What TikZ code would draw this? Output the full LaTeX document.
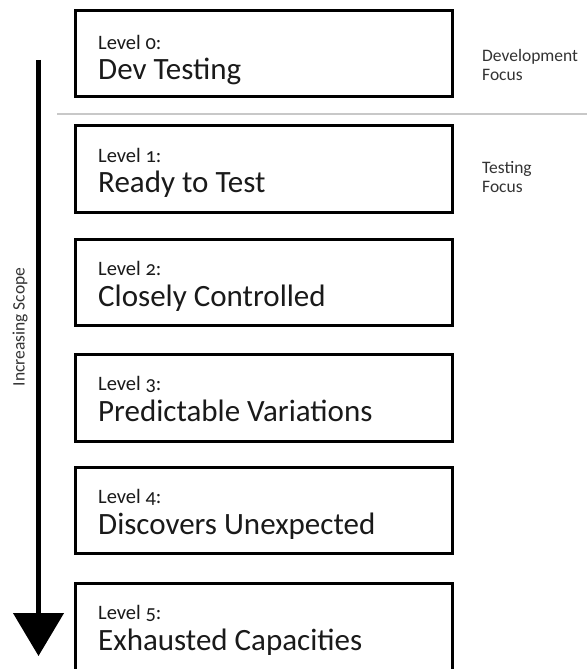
\documentclass[tikz,border=0pt]{standalone}
\usepackage{fontspec}
\setmainfont{Carlito}[Numbers=OldStyle]
\usetikzlibrary{arrows.meta}
\definecolor{ink}{HTML}{1A1A1A}
\definecolor{sidetxt}{HTML}{333333}
\definecolor{sepgray}{HTML}{C8C8C8}
\tikzset{
  levelbox/.style={draw=black, line width=3pt, rectangle, inner sep=0pt, outer sep=0pt,
    minimum width=377pt, anchor=north west},
  lvltxt/.style={anchor=base west, inner sep=0pt, text=ink, font=\fontsize{20.5}{24}\selectfont},
  titletxt/.style={anchor=base west, inner sep=0pt, text=ink, font=\fontsize{31}{36}\selectfont},
  sidelabel/.style={anchor=base west, inner sep=0pt, align=left, text=sidetxt,
    font=\fontsize{17.5}{19}\selectfont},
}
\begin{document}
\begin{tikzpicture}[x=1pt,y=-1pt]
\useasboundingbox[fill=white] (0,0) rectangle (587,669);

% boxes
\node[levelbox, minimum height=85pt] (b0) at (75,11) {};
\node[levelbox, minimum height=87pt] (b1) at (75,125) {};
\node[levelbox, minimum height=86pt] (b2) at (75,239) {};
\node[levelbox, minimum height=87pt] (b3) at (75,354) {};
\node[levelbox, minimum height=86pt] (b4) at (75,467) {};
\node[levelbox, minimum height=92pt] (b5) at (75,583) {};

% texts
\node[lvltxt] (l0) at (98,50) {Level 0:};
\node[titletxt] (t0) at (98,79) {Dev Testing};
\node[lvltxt] (l1) at (98,162) {Level 1:};
\node[titletxt] (t1) at (98,192) {Ready to Test};
\node[lvltxt] (l2) at (98,275) {Level 2:};
\node[titletxt] (t2) at (98,306) {Closely Controlled};
\node[lvltxt] (l3) at (98,390) {Level 3:};
\node[titletxt] (t3) at (98,421) {Predictable Variations};
\node[lvltxt] (l4) at (98,503) {Level 4:};
\node[titletxt] (t4) at (98,534) {Discovers Unexpected};
\node[lvltxt] (l5) at (98,619) {Level 5:};
\node[titletxt] (t5) at (98,650) {Exhausted Capacities};

% side labels (anchor is the baseline of the last line)
\node[sidelabel] (dev) at (482,81) {Development\\Focus};
\node[sidelabel] (tst) at (482,192) {Testing\\Focus};

% separator
\coordinate (s0) at (57,114);
\coordinate (s1) at (587,114);
\draw[sepgray, line width=1.2pt] (s0) -- (s1);

% scope arrow
\coordinate (atop) at (38.5,60);
\coordinate (abot) at (38.5,656);
\draw[black, line width=4.5pt, -{Triangle[width=50pt,length=43pt]}] (atop) -- (abot);
\node[rotate=90, text=sidetxt, font=\fontsize{17.5}{20}\selectfont, inner sep=0pt] (scope) at (20,327) {Increasing Scope};
\end{tikzpicture}
\end{document}
